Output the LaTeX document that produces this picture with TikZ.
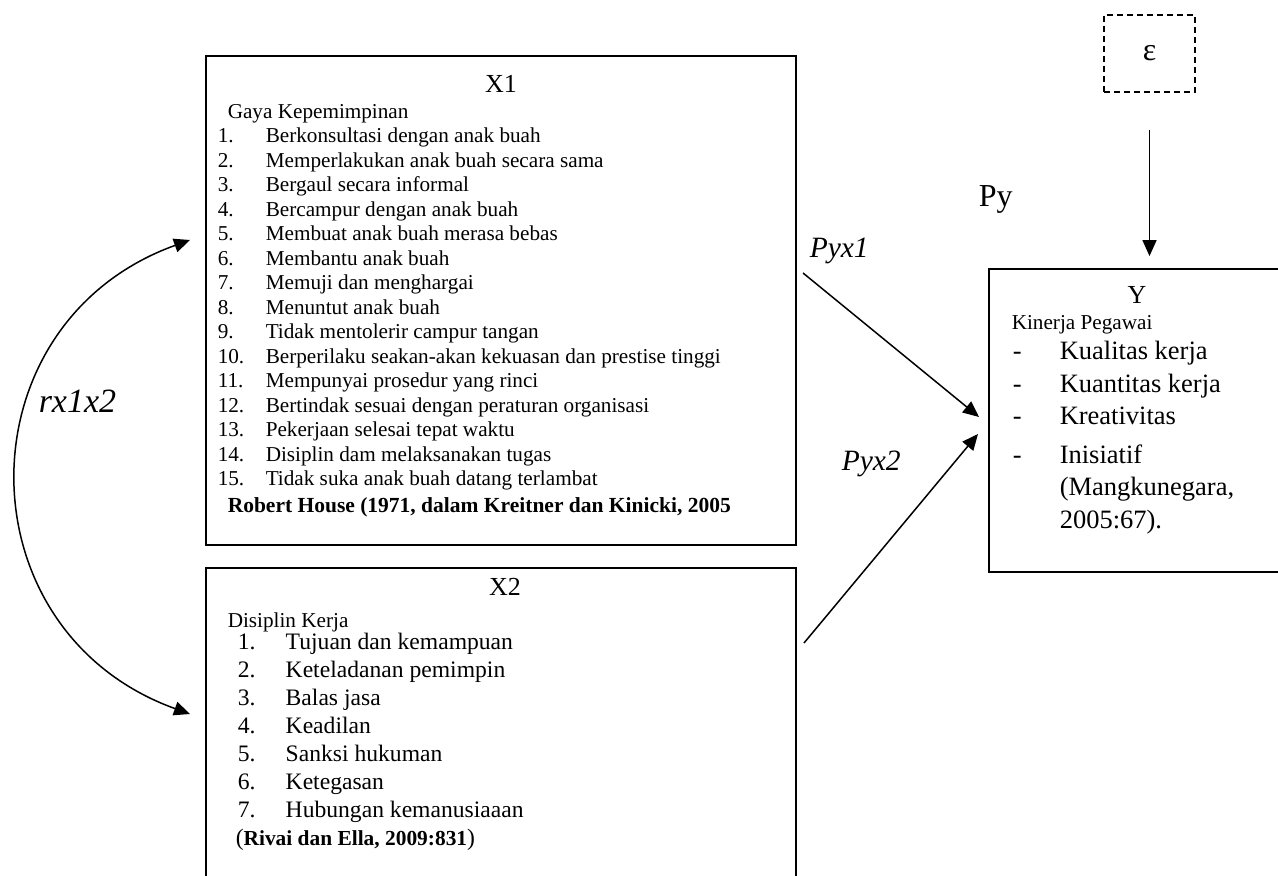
\documentclass[tikz,border=0pt]{standalone}
\usepackage{fontspec}
\setmainfont{Liberation Serif}
\usetikzlibrary{arrows.meta}
\newcommand\itemfont{\fontsize{10.6}{12.25}\selectfont}
\newcommand\itemfontb{\fontsize{11.8}{14}\selectfont}
\newcommand\itemfonty{\fontsize{13.25}{16.25}\selectfont}
\newcommand\headfont{\fontsize{10.6}{12}\selectfont}
\newcommand\ttlfont{\fontsize{13}{15}\selectfont}
\newcommand\lblfont{\fontsize{14.75}{17}\selectfont}
\tikzset{
  box/.style={draw, line width=0.9pt, inner sep=0pt},
  lbl/.style={inner sep=0pt, anchor=base west},
  ttl/.style={inner sep=0pt, anchor=base, font=\ttlfont},
}
\begin{document}
\begin{tikzpicture}[x=0.5pt,y=-0.5pt,>={Triangle[length=8pt,width=7pt]},line width=0.75pt]
  \useasboundingbox (0,0) rectangle (1278,876);
  % boxes
  \node[box, minimum width=295pt, minimum height=244.5pt] (x1) at (501,300.5) {};
  \node[box, minimum width=295pt, minimum height=166pt] (x2) at (501,734) {};
  \node[box, minimum width=155.5pt, minimum height=151.5pt] (ykin) at (1144.5,420.5) {};
  \node[box, dash pattern=on 3pt off 2pt, minimum width=45.5pt, minimum height=38.5pt,
    font=\fontsize{16}{18}\selectfont] (eps) at (1149.5,53.5) {ε};
  % X1
  \node[ttl] (x1t) at (501,93) {X1};
  \node[lbl, font=\headfont] (x1h) at (227,119) {Gaya Kepemimpinan};
  \node[lbl, font=\itemfont] (x1l) at (217,143) {\begin{tabular}[t]{@{}p{24pt}@{}l@{}}
    1. & Berkonsultasi dengan anak buah\\
    2. & Memperlakukan anak buah secara sama\\
    3. & Bergaul secara informal\\
    4. & Bercampur dengan anak buah\\
    5. & Membuat anak buah merasa bebas\\
    6. & Membantu anak buah\\
    7. & Memuji dan menghargai\\
    8. & Menuntut anak buah\\
    9. & Tidak mentolerir campur tangan\\
    10. & Berperilaku seakan-akan kekuasan dan prestise tinggi\\
    11. & Mempunyai prosedur yang rinci\\
    12. & Bertindak sesuai dengan peraturan organisasi\\
    13. & Pekerjaan selesai tepat waktu\\
    14. & Disiplin dam melaksanakan tugas\\
    15. & Tidak suka anak buah datang terlambat
  \end{tabular}};
  \node[lbl, font=\bfseries\fontsize{10.75}{12}\selectfont] (x1s) at (227,512) {Robert House (1971, dalam Kreitner dan Kinicki, 2005};
  % X2
  \node[ttl] (x2t) at (505,595) {X2};
  \node[lbl, font=\headfont] (x2h) at (227,627) {Disiplin Kerja};
  \node[lbl, font=\itemfontb] (x2l) at (237,649) {\begin{tabular}[t]{@{}p{24pt}@{}l@{}}
    1. & Tujuan dan kemampuan\\
    2. & Keteladanan pemimpin\\
    3. & Balas jasa\\
    4. & Keadilan\\
    5. & Sanksi hukuman\\
    6. & Ketegasan\\
    7. & Hubungan kemanusiaaan
  \end{tabular}};
  \node[lbl, font=\itemfontb] (x2s) at (235,845) {({\bfseries\fontsize{10.7}{13}\selectfont Rivai dan Ella, 2009:831})};
  % Y
  \node[ttl] (yt) at (1137,304) {Y};
  \node[lbl, font=\headfont] (yh) at (1011,330) {Kinerja Pegawai};
  \node[lbl, font=\itemfonty] (yl) at (1012,360) {\begin{tabular}[t]{@{}p{23.5pt}@{}l@{}}
    - & Kualitas kerja\\
    - & Kuantitas kerja\\
    - & Kreativitas\\[3pt]
    - & Inisiatif\\
      & (Mangkunegara,\\
      & 2005:67).
  \end{tabular}};
  % labels
  \node[lbl, font=\fontsize{16}{18}\selectfont] (py) at (978,207) {Py};
  \node[lbl, font=\lblfont\itshape] (pyx1) at (809,258) {Pyx1};
  \node[lbl, font=\lblfont\itshape] (pyx2) at (841,471) {Pyx2};
  \node[lbl, font=\fontsize{17}{19}\selectfont\itshape] (rx) at (38,413) {rx1x2};
  % connectors
  \coordinate (a1) at (803,273);
  \coordinate (b1) at (979,417);
  \coordinate (a2) at (804,643);
  \coordinate (b2) at (978,434);
  \coordinate (r1) at (190,240);
  \coordinate (r2) at (190,714);
  \draw[->] (a1) -- (b1);
  \draw[->] (a2) -- (b2);
  \draw[->] ([yshift=-18.5pt]eps.south) -- ([yshift=6pt]eps.south |- ykin.north);
  \draw[<->] (r2) .. controls (-40,631) and (-40,323) .. (r1);
\end{tikzpicture}
\end{document}
